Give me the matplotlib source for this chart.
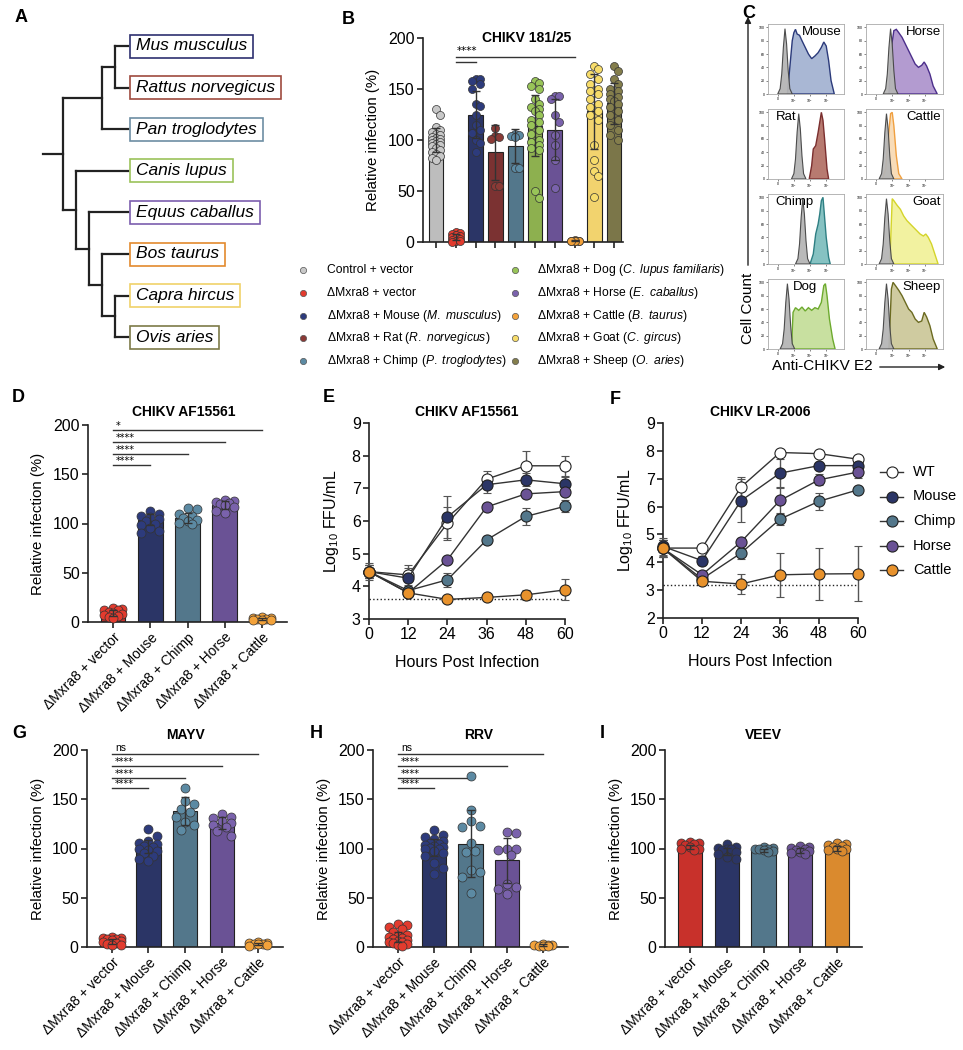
import numpy as np
import matplotlib
matplotlib.use("Agg")
import matplotlib.pyplot as plt
from matplotlib.patches import Rectangle

plt.rcParams["font.family"] = "Liberation Sans"
plt.rcParams["mathtext.fontset"] = "custom"
plt.rcParams["mathtext.rm"] = "Liberation Sans"
plt.rcParams["mathtext.it"] = "Liberation Sans:italic"
plt.rcParams["mathtext.bf"] = "Liberation Sans:bold"

# -----------------------------
# 1. Data
# -----------------------------
# A: tree
species = ["Mus musculus", "Rattus norvegicus", "Pan troglodytes", "Canis lupus",
           "Equus caballus", "Bos taurus", "Capra hircus", "Ovis aries"]
species_edge = ["#2E3070", "#9E4A3E", "#6D8EA3", "#9BC25A",
                "#7B5EAE", "#E38A2E", "#F0D26A", "#7D7A48"]
tree = (((0, 1), 2), (3, (4, (5, (6, 7)))))

# B: CHIKV 181/25
b_labels = ["Control + vector", "ΔMxra8 + vector",
            r"ΔMxra8 + Mouse ($\mathit{M.\ musculus}$)",
            r"ΔMxra8 + Rat ($\mathit{R.\ norvegicus}$)",
            r"ΔMxra8 + Chimp ($\mathit{P.\ troglodytes}$)",
            r"ΔMxra8 + Dog ($\mathit{C.\ lupus\ familiaris}$)",
            r"ΔMxra8 + Horse ($\mathit{E.\ caballus}$)",
            r"ΔMxra8 + Cattle ($\mathit{B.\ taurus}$)",
            r"ΔMxra8 + Goat ($\mathit{C.\ gircus}$)",
            r"ΔMxra8 + Sheep ($\mathit{O.\ aries}$)"]
b_means = [100, 5, 125, 88, 94, 114, 110, 1, 128, 136]
b_sds = [12, 3, 23, 27, 17, 30, 30, 0.5, 37, 20]
b_points = [
    [130, 125, 113, 110, 108, 106, 105, 103, 102, 101, 100, 99, 98, 97, 96, 95, 94, 92, 90, 88, 86, 84, 82, 80],
    [10, 9, 8, 7, 6, 5, 4, 3, 2, 1, 1, 0],
    [160, 160, 158, 155, 150, 135, 133, 125, 115, 110, 107, 100, 97, 88],
    [112, 104, 103, 101, 55, 55],
    [106, 105, 104, 103, 73, 73],
    [158, 156, 153, 150, 140, 135, 132, 130, 128, 125, 120, 118, 115, 110, 106, 100, 98, 95, 92, 90, 50, 43],
    [143, 143, 140, 125, 118, 105, 95, 80, 53],
    [1.5, 1.2, 1, 1, 0.8, 0.5, 0.5],
    [173, 170, 165, 160, 155, 150, 148, 145, 140, 135, 132, 128, 125, 120, 95, 80, 70, 65, 44],
    [173, 168, 160, 155, 150, 148, 145, 142, 140, 138, 135, 132, 128, 125, 120, 115, 110, 105, 100],
]
b_bar_colors = ["#BDBDBD", "#C8312B", "#2B3566", "#7B3232", "#53778B",
                "#8DB04F", "#6A5295", "#DA8A2E", "#F2D36E", "#7B7649"]
b_dot_colors = ["#C8C8C8", "#E23B2E", "#2D3B7C", "#8A3A36", "#5C8AA3",
                "#98C458", "#7A62AC", "#F3A23A", "#F7DC6A", "#847E4C"]

# C: flow histograms
hist_names = ["Mouse", "Rat", "Chimp", "Dog", "Horse", "Cattle", "Goat", "Sheep"]
ctrl_dx = [-0.45, -0.3, -0.2, -0.1, 0, 0.1, 0.2, 0.3, 0.45]
ctrl_y = [0, 8, 30, 70, 98, 75, 35, 8, 0]
ctrl_centers = [0.45, 1.3, 1.55, 0.6, 0.9, 0.65, 0.65, 0.65]
hist_x = [
    [0.6, 0.75, 0.9, 1.0, 1.1, 1.2, 1.35, 1.5, 1.7, 1.9, 2.1, 2.3, 2.5, 2.7, 2.85, 3.0, 3.15, 3.3, 3.5],
    [1.95, 2.1, 2.2, 2.35, 2.5, 2.6, 2.7, 2.8, 2.9, 3.05, 3.15],
    [2.0, 2.2, 2.35, 2.5, 2.6, 2.7, 2.8, 2.9, 3.0, 3.15, 3.25],
    [0.85, 0.95, 1.1, 1.3, 1.5, 1.7, 1.9, 2.1, 2.3, 2.5, 2.7, 2.85, 2.95, 3.05, 3.2, 3.4, 3.55],
    [0.8, 0.95, 1.1, 1.25, 1.4, 1.6, 1.8, 2.0, 2.2, 2.4, 2.6, 2.8, 2.95, 3.1, 3.3, 3.5, 3.75],
    [0.4, 0.6, 0.75, 0.9, 1.0, 1.1, 1.25, 1.4, 1.6],
    [0.85, 1.0, 1.1, 1.3, 1.5, 1.7, 1.9, 2.1, 2.3, 2.5, 2.7, 2.9, 3.05, 3.2, 3.4, 3.6, 3.8],
    [0.8, 0.95, 1.05, 1.2, 1.4, 1.6, 1.8, 2.0, 2.2, 2.4, 2.6, 2.8, 2.95, 3.1, 3.3, 3.5, 3.75],
]
hist_y = [
    [0, 40, 80, 92, 97, 90, 88, 80, 70, 60, 53, 57, 62, 70, 78, 72, 50, 20, 0],
    [0, 20, 45, 50, 70, 85, 100, 88, 60, 15, 0],
    [0, 15, 45, 60, 75, 95, 100, 70, 40, 10, 0],
    [0, 55, 62, 58, 63, 57, 62, 58, 62, 60, 70, 95, 98, 80, 45, 15, 0],
    [0, 70, 95, 97, 92, 85, 75, 65, 55, 45, 40, 43, 48, 42, 30, 12, 0],
    [0, 15, 60, 98, 100, 80, 35, 8, 0],
    [0, 98, 95, 88, 82, 72, 65, 60, 55, 50, 45, 42, 45, 40, 30, 15, 0],
    [0, 90, 100, 95, 88, 80, 70, 60, 55, 45, 40, 42, 55, 48, 35, 15, 0],
]
hist_fill = ["#A9B7D4", "#B77A70", "#86C2C2", "#C8E0A0", "#B39BD0", "#F8DCB8", "#F2F2A0", "#CFCBA0"]
hist_edge = ["#2B3A7A", "#7A2E2E", "#2E7F83", "#6DAA2E", "#4B2E8A", "#F0A040", "#D4D42A", "#6B6A20"]

# D, G, H, I: bar panels
grp_labels = ["ΔMxra8 + vector", "ΔMxra8 + Mouse", "ΔMxra8 + Chimp", "ΔMxra8 + Horse", "ΔMxra8 + Cattle"]
grp_bar_colors = ["#C8312B", "#2B3566", "#53778B", "#6A5295", "#DA8A2E"]
grp_dot_colors = ["#E23B2E", "#2D3B7C", "#5C8AA3", "#7A62AC", "#F3A23A"]

d_means = [9, 104, 106, 119, 3]
d_sds = [3, 6, 5, 4, 1]
d_points = [[14, 13, 12, 12, 10, 9, 8, 7, 6, 5, 4],
            [113, 110, 108, 107, 105, 103, 100, 98, 95, 92, 90],
            [116, 115, 110, 108, 106, 104, 103, 101, 99],
            [124, 123, 122, 121, 120, 119, 117, 113, 111],
            [5, 4, 4, 3, 3, 2, 2, 2]]
d_sig = ["****", "****", "****", "*"]
d_sig_y = [159, 171, 183, 195]

g_means = [6, 102, 138, 126, 3]
g_sds = [2.5, 7, 14, 6, 1]
g_points = [[10, 9, 9, 8, 8, 7, 6, 5, 4, 3, 2, 2],
            [120, 113, 108, 106, 105, 103, 102, 100, 98, 97, 95, 92, 89, 87],
            [161, 148, 145, 140, 137, 132, 127, 124, 119],
            [135, 132, 131, 128, 126, 124, 122, 118, 113],
            [5, 4, 4, 3, 3, 3, 2, 1]]
g_sig = ["****", "****", "****", "ns"]
g_sig_y = [161, 172, 184, 196]

h_means = [10, 101, 105, 88, 2]
h_sds = [5, 9, 34, 23, 1]
h_points = [[23, 22, 20, 18, 15, 12, 11, 10, 9, 8, 7, 6, 5, 5, 4, 3, 2, 1],
            [119, 114, 112, 110, 108, 106, 105, 104, 103, 102, 101, 100, 99, 97, 95, 92, 85, 80, 74],
            [174, 139, 128, 123, 122, 106, 97, 96, 78, 76, 71, 55],
            [117, 116, 100, 99, 98, 93, 64, 61, 59, 54],
            [3, 2, 2, 2, 1, 1, 1]]
h_sig = ["****", "****", "****", "ns"]
h_sig_y = [161, 172, 184, 196]

i_means = [102, 97, 98, 98, 100]
i_sds = [2, 4, 2, 3, 3]
i_points = [[107, 106, 106, 105, 104, 102, 100, 99, 98],
            [105, 102, 101, 100, 99, 98, 96, 94, 91, 89],
            [102, 101, 100, 100, 99, 98, 97, 96],
            [103, 102, 101, 100, 98, 97, 96, 95, 94],
            [106, 105, 104, 103, 102, 100, 99, 98, 97]]

# E, F: growth curves
hours = [0, 12, 24, 36, 48, 60]
curve_names = ["WT", "Mouse", "Chimp", "Horse", "Cattle"]
curve_colors = ["white", "#2B3566", "#53778B", "#6A5295", "#E8922C"]
e_vals = [[4.45, 4.35, 5.93, 7.28, 7.69, 7.69],
          [4.45, 4.25, 6.12, 7.11, 7.26, 7.14],
          [4.45, 3.87, 4.20, 5.42, 6.14, 6.45],
          [4.45, 3.80, 4.81, 6.43, 6.83, 6.90],
          [4.45, 3.80, 3.60, 3.66, 3.74, 3.89]]
e_sds = [[0.25, 0.3, 0.5, 0.25, 0.44, 0.3],
         [0.2, 0.3, 0.65, 0.25, 0.2, 0.2],
         [0.2, 0.15, 0.22, 0.12, 0.27, 0.18],
         [0.2, 0.1, 0.1, 0.1, 0.12, 0.1],
         [0.2, 0.1, 0.05, 0.05, 0.15, 0.32]]
e_lod = 3.6
f_vals = [[4.51, 4.51, 6.70, 7.94, 7.90, 7.70],
          [4.57, 4.06, 6.21, 7.20, 7.47, 7.47],
          [4.50, 3.40, 4.33, 5.55, 6.19, 6.60],
          [4.50, 3.55, 4.73, 6.22, 6.96, 7.24],
          [4.50, 3.32, 3.22, 3.55, 3.58, 3.59]]
f_sds = [[0.3, 0.1, 0.35, 0.05, 0.1, 0.05],
         [0.3, 0.15, 0.78, 0.5, 0.1, 0.1],
         [0.3, 0.15, 0.2, 0.2, 0.3, 0.05],
         [0.3, 0.15, 0.15, 0.45, 0.2, 0.2],
         [0.3, 0.1, 0.35, 0.8, 0.92, 0.98]]
f_lod = 3.2

# -----------------------------
# 2. Helpers
# -----------------------------
W, H = 963, 1050
fig = plt.figure(figsize=(W / 100, H / 100), dpi=100)

ov = fig.add_axes([0, 0, 1, 1])
ov.set_xlim(0, W)
ov.set_ylim(H, 0)
ov.axis("off")
ov.set_zorder(10)


def px_axes(x0, y0, x1, y1):
    return fig.add_axes([x0 / W, 1 - y1 / H, (x1 - x0) / W, (y1 - y0) / H])


def style(ax):
    for s in ["top", "right"]:
        ax.spines[s].set_visible(False)
    for s in ["left", "bottom"]:
        ax.spines[s].set_linewidth(1.2)
        ax.spines[s].set_color("#222")
    ax.tick_params(direction="out", length=4, width=1.2, color="#222", labelsize=11.5, pad=2)


def swarm(vals, rx, ry, half):
    vals = np.asarray(vals, float)
    step = rx / 2
    cands = [0.0]
    for k in range(1, int(half // step) + 1):
        cands += [k * step, -k * step]
    placed, offs = [], np.zeros(len(vals))
    for i in np.argsort(-vals):
        best, best_d = 0.0, -1.0
        for c in cands:
            d = min((np.hypot((c - px) / rx, (vals[i] - py) / ry) for px, py in placed), default=9.0)
            if d >= 1.0:
                best = c
                break
            if d > best_d:
                best, best_d = c, d
        offs[i] = best
        placed.append((best, vals[i]))
    return offs


def bar_panel(ax, means, sds, points, bar_cols, dot_cols, width, dot_px, xlim, xlabels=None):
    style(ax)
    x = np.arange(len(means))
    ax.set_xlim(*xlim)
    ax.set_ylim(0, 200)
    ax.set_yticks([0, 50, 100, 150, 200])
    ax.bar(x, means, width, color=bar_cols, edgecolor="#222", linewidth=0.8, zorder=2)
    pos = ax.get_position()
    rx = dot_px * (xlim[1] - xlim[0]) / (pos.width * W)
    ry = dot_px * 200 / (pos.height * H)
    for i, vals in enumerate(points):
        offs = swarm(vals, rx, ry, width / 2 - rx * 0.3)
        ax.scatter(x[i] + offs, vals, s=(dot_px * 0.72) ** 2, facecolor=dot_cols[i],
                   edgecolor="#333", linewidth=0.5, zorder=3, clip_on=False)
    ax.errorbar(x, means, yerr=sds, fmt="none", ecolor="#333", elinewidth=1,
                capsize=3, capthick=1, zorder=4)
    ax.set_xticks(x)
    if xlabels is None:
        ax.set_xticklabels([])
    else:
        ax.set_xticklabels(xlabels, rotation=45, ha="right", va="top",
                           rotation_mode="anchor", fontsize=10)
    ax.set_ylabel("Relative infection (%)", fontsize=10.8)
    ax.yaxis.set_label_coords(-0.215, 0.5)


def sig_lines(ax, levels, texts):
    for k, (y, t) in enumerate(zip(levels, texts)):
        ax.plot([0, k + 1], [y, y], color="#333", lw=1, clip_on=False)
        if t == "ns":
            ax.text(0.1, y + 0.5, t, fontsize=7.5, va="bottom", ha="left")
        else:
            ax.text(0.08, y - 1, t, fontsize=7, va="bottom", ha="left", family="DejaVu Sans")


def growth_panel(ax, vals, sds, lod, ylim):
    style(ax)
    for v, s, c in zip(vals, sds, curve_colors):
        ax.errorbar(hours, v, yerr=s, color="#333", lw=1, ecolor="#555", elinewidth=1,
                    capsize=3, marker="o", ms=8, mfc=c, mec="#222", mew=0.8, clip_on=False, zorder=3)
    ax.plot([0, 60], [lod, lod], ls=":", color="#222", lw=1, zorder=2)
    ax.set_xlim(0, 60)
    ax.set_ylim(*ylim)
    ax.set_xticks(hours)
    ax.set_yticks(range(ylim[0], ylim[1] + 1))
    ax.set_xlabel("Hours Post Infection", fontsize=11.5)
    ax.xaxis.set_label_coords(0.5, -0.185)
    ax.set_ylabel(r"Log$_{10}$ FFU/mL", fontsize=11.5)
    ax.yaxis.set_label_coords(-0.145, 0.5)


def title(ax, text, x, y):
    ax.text(x, y, text, transform=ax.transAxes, ha="center", va="center",
            fontsize=10, fontweight="bold")


# -----------------------------
# 3. Panel A: tree
# -----------------------------
leaf_y = [46 + 41.6 * i for i in range(len(species))]


def draw_node(node):
    if isinstance(node, int):
        return 128, leaf_y[node], 0
    kids = [draw_node(n) for n in node]
    h = max(k[2] for k in kids) + 1
    x = 128 - 13 * h
    ys = [k[1] for k in kids]
    ov.plot([x, x], [min(ys), max(ys)], color="#222", lw=1.6, solid_capstyle="projecting")
    for kx, ky, _ in kids:
        ov.plot([x, kx], [ky, ky], color="#222", lw=1.6, solid_capstyle="projecting")
    return x, float(np.mean(ys)), h


rx_, ry_, _ = draw_node(tree)
ov.plot([43, rx_], [ry_, ry_], color="#222", lw=1.6)

names_txt = [ov.text(136, y, s, fontsize=12.5, style="italic", va="center", ha="left")
             for s, y in zip(species, leaf_y)]

# -----------------------------
# 4. Panel B
# -----------------------------
axB = px_axes(423, 38, 623, 242)
bar_panel(axB, b_means, b_sds, b_points, b_bar_colors, b_dot_colors, 0.74, 8, (-0.66, 9.45))
title(axB, "CHIKV 181/25", 0.52, 1.0)
axB.plot([1, 7], [181, 181], color="#333", lw=1, clip_on=False)
axB.plot([1, 2], [176, 176], color="#333", lw=1, clip_on=False)
axB.text(1.05, 182, "****", fontsize=7.5, va="bottom", family="DejaVu Sans")

for i, (lab, col) in enumerate(zip(b_labels, b_dot_colors)):
    cx, tx = (303, 327) if i < 5 else (515, 537)
    y = 270 + 22.75 * (i % 5)
    ov.plot(cx, y, "o", ms=4.5, mfc=col, mec="#555", mew=0.5)
    ov.text(tx, y, lab, fontsize=8.7, va="center", ha="left")

# -----------------------------
# 5. Panel C: histograms
# -----------------------------
col_x = [(768, 844), (866, 943)]
row_y = [24, 109, 194, 279]
hist_align = [("right", 0.97), ("left", 0.1), ("left", 0.1), ("left", 0.33),
              ("right", 0.97), ("right", 0.97), ("right", 0.97), ("right", 0.97)]
for k, name in enumerate(hist_names):
    c, r = divmod(k, 4)
    ax = px_axes(col_x[c][0], row_y[r], col_x[c][1], row_y[r] + 70)
    ax.fill(hist_x[k], hist_y[k], facecolor=hist_fill[k], edgecolor=hist_edge[k], lw=1, zorder=2)
    gx = [ctrl_centers[k] + d for d in ctrl_dx]
    ax.fill(gx, ctrl_y, facecolor="#B5B5B5", edgecolor="#444", lw=0.8, alpha=0.95, zorder=3)
    ax.set_xlim(-0.6, 4.1)
    ax.set_ylim(0, 105)
    ax.set_xticks([0, 1, 2, 3])
    ax.set_xticklabels(["0", r"10$^5$", r"10$^6$", r"10$^7$"])
    ax.set_yticks([0, 20, 40, 60, 80, 100])
    ax.tick_params(length=1.5, width=0.5, labelsize=2.5, pad=0.8, color="#555")
    for s in ax.spines.values():
        s.set_color("#AAAAAA")
        s.set_linewidth(0.6)
    ha, tx = hist_align[k]
    ax.text(tx, 0.97, name, transform=ax.transAxes, ha=ha, va="top", fontsize=9.5, zorder=5)

ov.annotate("", xy=(748, 14), xytext=(748, 268),
            arrowprops=dict(arrowstyle="-|>", color="#222", lw=1, mutation_scale=9))
ov.text(748, 308, "Cell Count", rotation=90, ha="center", va="center", fontsize=11)
ov.text(772, 366, "Anti-CHIKV E2", ha="left", va="center", fontsize=11)
ov.annotate("", xy=(948, 367), xytext=(877, 367),
            arrowprops=dict(arrowstyle="-|>", color="#222", lw=1, mutation_scale=9))

# -----------------------------
# 6. Panels D, G, H, I
# -----------------------------
grp_xlim = (-0.68, 4.68)
axD = px_axes(88, 425, 287, 622)
bar_panel(axD, d_means, d_sds, d_points, grp_bar_colors, grp_dot_colors, 0.66, 9, grp_xlim, grp_labels)
sig_lines(axD, d_sig_y, d_sig)
title(axD, "CHIKV AF15561", 0.48, 1.066)

axG = px_axes(87, 750, 283, 947)
bar_panel(axG, g_means, g_sds, g_points, grp_bar_colors, grp_dot_colors, 0.66, 9, grp_xlim, grp_labels)
sig_lines(axG, g_sig_y, g_sig)
title(axG, "MAYV", 0.5, 1.076)

axH = px_axes(373, 750, 568, 947)
bar_panel(axH, h_means, h_sds, h_points, grp_bar_colors, grp_dot_colors, 0.66, 9, grp_xlim, grp_labels)
sig_lines(axH, h_sig_y, h_sig)
title(axH, "RRV", 0.54, 1.076)

axI = px_axes(665, 750, 862, 947)
bar_panel(axI, i_means, i_sds, i_points, grp_bar_colors, grp_bar_colors, 0.66, 9, grp_xlim, grp_labels)
title(axI, "VEEV", 0.5, 1.076)

# -----------------------------
# 7. Panels E, F
# -----------------------------
axE = px_axes(369, 423, 565, 619)
growth_panel(axE, e_vals, e_sds, e_lod, (3, 9))
title(axE, "CHIKV AF15561", 0.5, 1.056)

axF = px_axes(663, 423, 858, 618)
growth_panel(axF, f_vals, f_sds, f_lod, (2, 9))
title(axF, "CHIKV LR-2006", 0.5, 1.056)

for i, (name, col) in enumerate(zip(curve_names, curve_colors)):
    y = 472 + 24.5 * i
    ov.plot([880, 903], [y, y], color="#333", lw=1)
    ov.plot(891.5, y, "o", ms=8, mfc=col, mec="#222", mew=0.8)
    ov.text(913, y, name, fontsize=10.5, va="center", ha="left")

# -----------------------------
# 8. Panel letters and species boxes
# -----------------------------
for letter, (x, y) in zip("ABCDEFGHI", [(15, 18), (342, 20), (742, 14), (12, 398), (323, 398),
                                        (610, 399), (12, 733), (310, 733), (600, 733)]):
    ov.text(x, y, letter, fontsize=13, fontweight="bold", ha="left", va="center")

fig.canvas.draw()
renderer = fig.canvas.get_renderer()
inv = ov.transData.inverted()
for t, y, ec in zip(names_txt, leaf_y, species_edge):
    bb = t.get_window_extent(renderer)
    x1 = inv.transform((bb.x1, bb.y0))[0]
    ov.add_patch(Rectangle((130, y - 11.5), x1 + 6 - 130, 23, fill=False, edgecolor=ec, lw=1.2))

fig.savefig("out.png", dpi=100)
